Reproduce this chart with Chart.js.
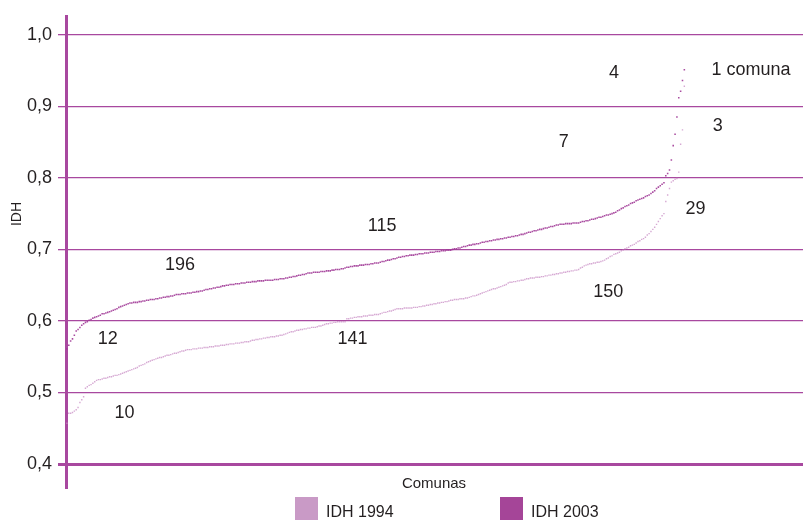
<!DOCTYPE html>
<html>
<head>
<meta charset="utf-8">
<script src="https://cdn.jsdelivr.net/npm/chart.js@4.4.0/dist/chart.umd.min.js"></script>
<style>
  html, body { margin: 0; padding: 0; background: #fff; overflow: hidden; }
  canvas { display: block; }
</style>
</head>
<body>
<canvas id="idh-chart" width="803" height="524"></canvas>
<script>
// IDH por comuna, ordenado de menor a mayor (334 comunas)
const idh1994 = [
  0.457, 0.471, 0.471, 0.472, 0.474, 0.476, 0.479, 0.486, 0.490, 0.494,
  0.506, 0.508, 0.510, 0.511, 0.513, 0.515, 0.517, 0.518, 0.518, 0.519,
  0.520, 0.520, 0.521, 0.522, 0.522, 0.523, 0.524, 0.524, 0.525, 0.526,
  0.527, 0.528, 0.529, 0.530, 0.531, 0.532, 0.533, 0.534, 0.535, 0.537,
  0.538, 0.539, 0.540, 0.542, 0.543, 0.544, 0.545, 0.546, 0.547, 0.548,
  0.549, 0.549, 0.550, 0.551, 0.552, 0.552, 0.553, 0.554, 0.555, 0.555,
  0.556, 0.557, 0.558, 0.558, 0.559, 0.560, 0.560, 0.560, 0.561, 0.561,
  0.561, 0.562, 0.562, 0.562, 0.563, 0.563, 0.563, 0.564, 0.564, 0.564,
  0.565, 0.565, 0.565, 0.566, 0.566, 0.566, 0.567, 0.567, 0.568, 0.568,
  0.568, 0.569, 0.569, 0.569, 0.570, 0.570, 0.571, 0.571, 0.571, 0.572,
  0.573, 0.573, 0.574, 0.574, 0.575, 0.575, 0.576, 0.576, 0.577, 0.577,
  0.578, 0.578, 0.578, 0.579, 0.579, 0.580, 0.580, 0.581, 0.582, 0.583,
  0.584, 0.585, 0.585, 0.586, 0.587, 0.587, 0.588, 0.588, 0.589, 0.589,
  0.590, 0.590, 0.591, 0.591, 0.591, 0.592, 0.593, 0.593, 0.594, 0.595,
  0.596, 0.596, 0.597, 0.597, 0.598, 0.598, 0.599, 0.599, 0.599, 0.599,
  0.599, 0.603, 0.603, 0.604, 0.604, 0.605, 0.605, 0.606, 0.606, 0.606,
  0.607, 0.607, 0.607, 0.608, 0.608, 0.608, 0.609, 0.609, 0.609, 0.610,
  0.611, 0.612, 0.612, 0.613, 0.614, 0.614, 0.615, 0.616, 0.617, 0.617,
  0.617, 0.617, 0.618, 0.618, 0.618, 0.618, 0.618, 0.619, 0.619, 0.619,
  0.620, 0.620, 0.621, 0.621, 0.622, 0.622, 0.623, 0.623, 0.624, 0.624,
  0.625, 0.625, 0.626, 0.626, 0.627, 0.627, 0.628, 0.629, 0.629, 0.630,
  0.630, 0.630, 0.631, 0.631, 0.631, 0.632, 0.632, 0.633, 0.634, 0.635,
  0.635, 0.636, 0.637, 0.638, 0.639, 0.640, 0.641, 0.642, 0.643, 0.644,
  0.645, 0.645, 0.646, 0.647, 0.648, 0.649, 0.650, 0.651, 0.653, 0.654,
  0.654, 0.655, 0.655, 0.656, 0.656, 0.657, 0.657, 0.658, 0.659, 0.659,
  0.660, 0.660, 0.660, 0.661, 0.661, 0.661, 0.662, 0.662, 0.663, 0.663,
  0.664, 0.664, 0.665, 0.665, 0.666, 0.666, 0.667, 0.667, 0.668, 0.668,
  0.669, 0.669, 0.670, 0.670, 0.671, 0.671, 0.672, 0.674, 0.675, 0.677,
  0.678, 0.679, 0.680, 0.680, 0.681, 0.681, 0.682, 0.682, 0.683, 0.684,
  0.685, 0.687, 0.688, 0.690, 0.691, 0.693, 0.694, 0.695, 0.696, 0.698,
  0.699, 0.701, 0.702, 0.703, 0.705, 0.706, 0.707, 0.709, 0.711, 0.712,
  0.714, 0.715, 0.717, 0.720, 0.722, 0.725, 0.728, 0.731, 0.735, 0.739,
  0.743, 0.747, 0.750, 0.767, 0.776, 0.785, 0.794, 0.796, 0.798, 0.799,
  0.808, 0.847, 0.867, 0.928
];

const idh2003 = [
  0.561, 0.566, 0.572, 0.575, 0.580, 0.586, 0.588, 0.591, 0.594, 0.596,
  0.598, 0.599, 0.601, 0.602, 0.604, 0.605, 0.606, 0.607, 0.608, 0.610,
  0.610, 0.611, 0.612, 0.613, 0.614, 0.615, 0.616, 0.617, 0.619, 0.620,
  0.621, 0.622, 0.623, 0.624, 0.625, 0.625, 0.626, 0.626, 0.626, 0.627,
  0.627, 0.628, 0.628, 0.629, 0.629, 0.630, 0.630, 0.630, 0.631, 0.631,
  0.632, 0.632, 0.633, 0.633, 0.634, 0.634, 0.635, 0.635, 0.636, 0.637,
  0.637, 0.637, 0.638, 0.638, 0.638, 0.639, 0.639, 0.639, 0.640, 0.640,
  0.641, 0.641, 0.642, 0.642, 0.643, 0.644, 0.644, 0.645, 0.645, 0.646,
  0.646, 0.647, 0.647, 0.648, 0.649, 0.649, 0.650, 0.650, 0.651, 0.651,
  0.651, 0.652, 0.652, 0.652, 0.653, 0.653, 0.653, 0.654, 0.654, 0.654,
  0.655, 0.655, 0.655, 0.656, 0.656, 0.656, 0.656, 0.657, 0.657, 0.657,
  0.657, 0.657, 0.658, 0.658, 0.658, 0.659, 0.659, 0.659, 0.660, 0.660,
  0.661, 0.661, 0.662, 0.662, 0.663, 0.664, 0.664, 0.665, 0.665, 0.666,
  0.667, 0.667, 0.667, 0.668, 0.668, 0.668, 0.668, 0.669, 0.669, 0.669,
  0.670, 0.670, 0.670, 0.671, 0.671, 0.672, 0.672, 0.672, 0.673, 0.673,
  0.674, 0.675, 0.675, 0.676, 0.676, 0.677, 0.677, 0.677, 0.678, 0.678,
  0.678, 0.679, 0.679, 0.679, 0.680, 0.680, 0.681, 0.681, 0.681, 0.682,
  0.683, 0.683, 0.684, 0.685, 0.685, 0.686, 0.687, 0.687, 0.688, 0.689,
  0.689, 0.690, 0.690, 0.691, 0.691, 0.692, 0.692, 0.692, 0.693, 0.693,
  0.694, 0.694, 0.694, 0.695, 0.695, 0.695, 0.696, 0.696, 0.696, 0.697,
  0.697, 0.697, 0.698, 0.698, 0.698, 0.699, 0.699, 0.699, 0.700, 0.701,
  0.701, 0.702, 0.702, 0.703, 0.704, 0.704, 0.705, 0.706, 0.706, 0.707,
  0.707, 0.708, 0.708, 0.709, 0.710, 0.710, 0.711, 0.711, 0.712, 0.712,
  0.713, 0.713, 0.714, 0.714, 0.715, 0.715, 0.716, 0.716, 0.717, 0.717,
  0.718, 0.718, 0.719, 0.719, 0.720, 0.721, 0.721, 0.722, 0.723, 0.724,
  0.724, 0.725, 0.726, 0.726, 0.727, 0.728, 0.728, 0.729, 0.730, 0.730,
  0.731, 0.732, 0.732, 0.733, 0.734, 0.734, 0.735, 0.735, 0.735, 0.736,
  0.736, 0.736, 0.736, 0.737, 0.737, 0.737, 0.737, 0.738, 0.739, 0.739,
  0.740, 0.740, 0.741, 0.742, 0.742, 0.743, 0.744, 0.745, 0.745, 0.746,
  0.747, 0.748, 0.748, 0.749, 0.750, 0.751, 0.752, 0.754, 0.755, 0.757,
  0.758, 0.760, 0.761, 0.762, 0.764, 0.765, 0.766, 0.768, 0.769, 0.770,
  0.771, 0.772, 0.774, 0.775, 0.776, 0.778, 0.780, 0.782, 0.785, 0.787,
  0.789, 0.791, 0.793, 0.803, 0.806, 0.811, 0.825, 0.845, 0.861, 0.885,
  0.912, 0.921, 0.936, 0.951
];

const yTicks = [0.4, 0.5, 0.6, 0.7, 0.8, 0.9, 1.0];

// numero de comunas en cada tramo, y donde va escrito (comuna, IDH)
const tramoTexto = ['1 comuna', '4', '3', '7', '29', '115', '196', '150', '12', '141', '10'];
const tramoX     = [369, 295, 351, 268, 339, 170, 61, 292, 22, 154, 31];
const tramoY     = [0.950, 0.946, 0.872, 0.850, 0.757, 0.732, 0.678, 0.640, 0.575, 0.575, 0.471];

const magenta = '#a8489f';
const txtColor = '#231f20';
const fontFam = '"Liberation Sans", Arial, Helvetica, sans-serif';

const toPoints = arr => arr.map((v, i) => ({ x: i, y: v }));

// textos sueltos: conteos, titulos de ejes y leyenda
const textos = {
  id: 'textos',
  afterDraw(chart) {
    const { ctx, scales: { x, y } } = chart;
    ctx.save();
    ctx.fillStyle = txtColor;
    ctx.textAlign = 'center';
    ctx.textBaseline = 'middle';

    ctx.font = '18px ' + fontFam;
    tramoTexto.forEach((t, i) => {
      ctx.fillText(t, x.getPixelForValue(tramoX[i]), y.getPixelForValue(tramoY[i]));
    });

    ctx.font = '15px ' + fontFam;
    ctx.fillText('Comunas', 434, 484);

    ctx.save();
    ctx.translate(17, 214);
    ctx.rotate(-Math.PI / 2);
    ctx.font = '14px ' + fontFam;
    ctx.fillText('IDH', 0, 0);
    ctx.restore();

    // leyenda
    const items = [[295, 0], [500, 1]];
    ctx.font = '16px ' + fontFam;
    ctx.textAlign = 'left';
    items.forEach(([lx, d]) => {
      const ds = chart.data.datasets[d];
      ctx.fillStyle = ds.legendColor;
      ctx.fillRect(lx, 497, 23, 23);
      ctx.fillStyle = txtColor;
      ctx.fillText(ds.label, lx + 31, 513);
    });
    ctx.restore();
  }
};

const ctx = document.getElementById('idh-chart').getContext('2d');
new Chart(ctx, {
  type: 'scatter',
  data: {
    datasets: [{
      label: 'IDH 1994',
      data: toPoints(idh1994),
      legendColor: '#c99ac6',
      backgroundColor: 'rgba(200, 140, 196, 0.75)',
      pointStyle: 'rect',
      pointRadius: 1.0,
      pointBorderWidth: 0
    }, {
      label: 'IDH 2003',
      data: toPoints(idh2003),
      legendColor: '#a54598',
      backgroundColor: 'rgba(160, 56, 150, 0.9)',
      pointStyle: 'rect',
      pointRadius: 1.1,
      pointBorderWidth: 0
    }]
  },
  options: {
    responsive: false,
    animation: false,
    layout: {
      autoPadding: false,
      padding: { top: 14, right: 0, bottom: 37, left: 0 }
    },
    scales: {
      x: {
        type: 'linear',
        display: false,
        min: -0.5,
        max: 397
      },
      y: {
        min: 0.368,
        max: 1.025,
        afterBuildTicks: s => { s.ticks = yTicks.map(v => ({ value: v })); },
        afterFit: s => { s.width = 66; },
        ticks: {
          padding: 6,
          color: txtColor,
          font: { family: fontFam, size: 18 },
          callback: v => v.toFixed(1).replace('.', ',')
        },
        grid: {
          color: magenta,
          lineWidth: c => (c.tick && c.tick.value === 0.4 ? 3 : 1.3),
          tickLength: 8,
          tickColor: magenta,
          tickWidth: c => (c.tick && c.tick.value === 0.4 ? 3 : 1.3)
        },
        border: {
          display: true,
          color: magenta,
          width: 3
        }
      }
    },
    plugins: {
      legend: { display: false },
      tooltip: { enabled: false }
    }
  },
  plugins: [textos]
});
</script>
</body>
</html>
